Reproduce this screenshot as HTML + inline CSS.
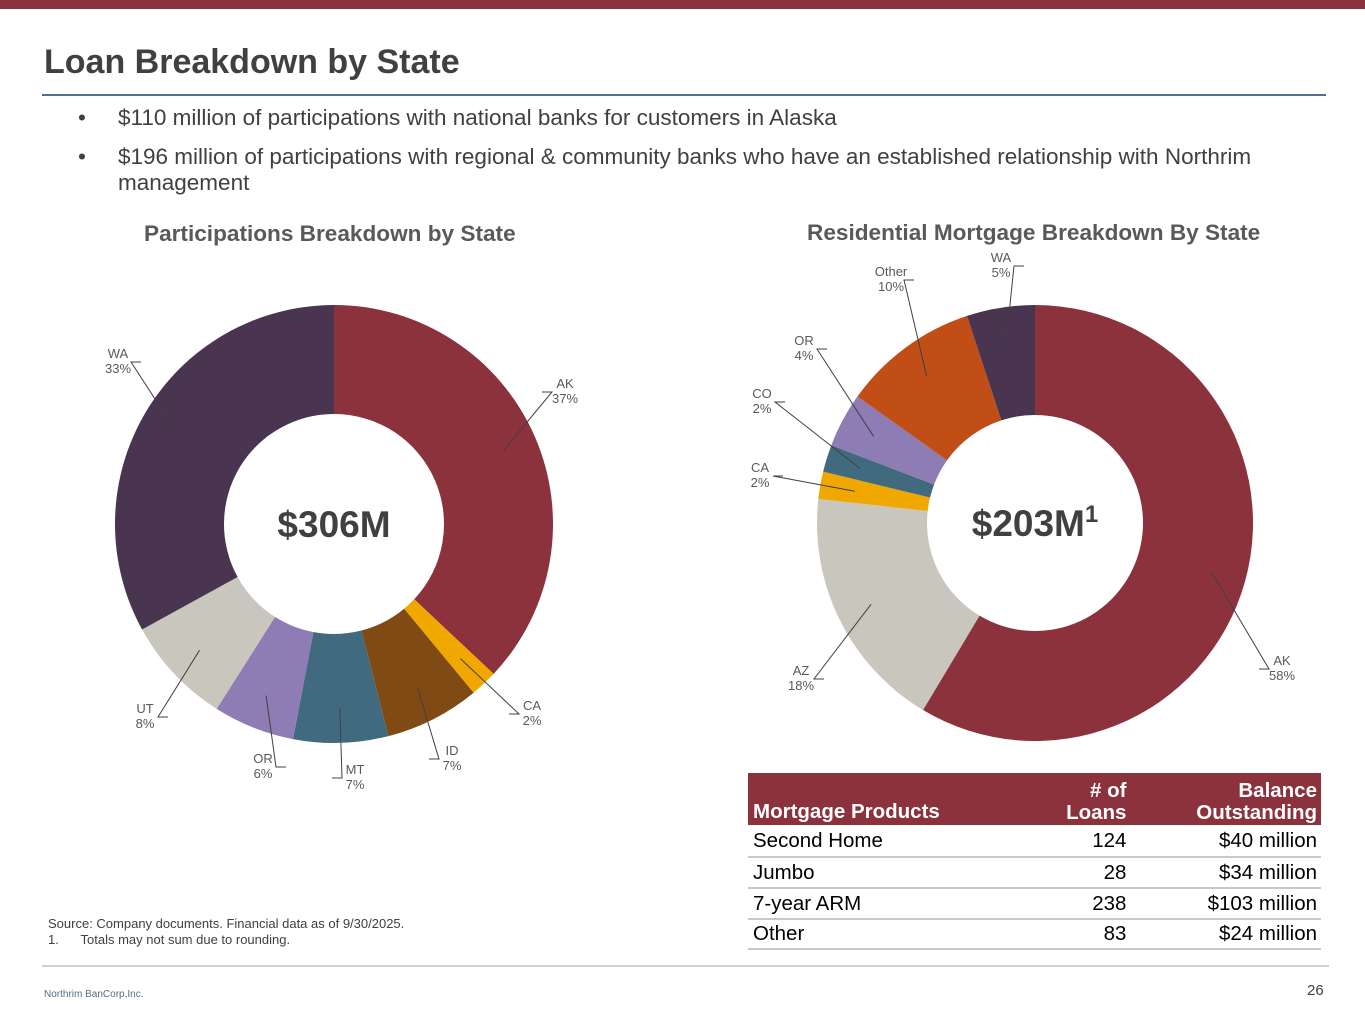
<!DOCTYPE html>
<html><head><meta charset="utf-8">
<style>
body{margin:0;width:1365px;height:1024px;background:#fff;font-family:"Liberation Sans",Arial,sans-serif;color:#404040;position:relative;overflow:hidden}
.abs{position:absolute}
.bul{position:absolute;left:78px;font-size:22.5px;color:#404040;line-height:26px}
.bul span{position:absolute;left:40px;width:1180px;line-height:26px}
table{border-collapse:collapse;font-size:20.5px;color:#000}
</style></head><body>
<div class="abs" style="left:0;top:0;width:1365px;height:9px;background:#8B323D"></div>
<div class="abs" style="left:44px;top:43px;font-size:34px;font-weight:bold;color:#404040">Loan Breakdown by State</div>
<div class="abs" style="left:42px;top:94px;width:1284px;height:2px;background:#4F6F8A"></div>
<div class="bul" style="top:105px">•<span style="top:0">$110 million of participations with national banks for customers in Alaska</span></div>
<div class="bul" style="top:144px">•<span style="top:0">$196 million of participations with regional &amp; community banks who have an established relationship with Northrim management</span></div>
<div class="abs" style="left:144px;top:221px;font-size:22.6px;font-weight:bold;color:#595959">Participations Breakdown by State</div>
<div class="abs" style="left:807px;top:220px;font-size:22.6px;font-weight:bold;color:#595959">Residential Mortgage Breakdown By State</div>
<svg class="abs" style="left:0;top:0" width="1365" height="1024" id="charts"></svg>
<div class="abs" style="left:748px;top:773px;width:573px">
<table style="width:573px">
<tr style="background:#8B323D;color:#fff;font-weight:bold;height:52px;vertical-align:bottom"><td style="padding:0 5px 1px">Mortgage Products</td><td style="text-align:right;padding:0 11px 1px 5px;line-height:22px"># of<br>Loans</td><td style="text-align:right;padding:0 4px 1px;line-height:22px">Balance<br>Outstanding</td></tr>
<tr style="height:32px;border-bottom:2px solid #c8c8c8"><td style="padding:0 5px">Second Home</td><td style="text-align:right;padding:0 11px 0 5px">124</td><td style="text-align:right;padding:0 4px">$40 million</td></tr>
<tr style="height:31px;border-bottom:2px solid #c8c8c8"><td style="padding:0 5px">Jumbo</td><td style="text-align:right;padding:0 11px 0 5px">28</td><td style="text-align:right;padding:0 4px">$34 million</td></tr>
<tr style="height:31px;border-bottom:2px solid #c8c8c8"><td style="padding:0 5px">7-year ARM</td><td style="text-align:right;padding:0 11px 0 5px">238</td><td style="text-align:right;padding:0 4px">$103 million</td></tr>
<tr style="height:30px;border-bottom:2px solid #c8c8c8"><td style="padding:0 5px">Other</td><td style="text-align:right;padding:0 11px 0 5px">83</td><td style="text-align:right;padding:0 4px">$24 million</td></tr>
</table></div>
<div class="abs" style="left:48px;top:916px;font-size:13px;line-height:16px;color:#404040">Source: Company documents. Financial data as of 9/30/2025.<br>1.&nbsp;&nbsp;&nbsp;&nbsp;&nbsp;&nbsp;Totals may not sum due to rounding.</div>
<div class="abs" style="left:42px;top:965px;width:1287px;height:2px;background:#d0d0d0"></div>
<div class="abs" style="left:44px;top:989px;font-size:10px;color:#4F6F8A">Northrim BanCorp,Inc.</div>
<div class="abs" style="left:1307px;top:982px;font-size:15px;color:#404040">26</div>
<script>
const leftCats=["AK","CA","ID","MT","OR","UT","WA"];
const leftVals=[37,2,7,7,6,8,33];
const rightCats=["AK","AZ","CA","CO","OR","Other","WA"];
const rightVals=[58,18,2,2,4,10,5];
const leftColors=["#8B323D","#F0A800","#7F4A14","#426A7E","#8E7DB4","#C9C7BD","#4A3550"];
const rightColors=["#8B323D","#C9C7BD","#F0A800","#426A7E","#8E7DB4","#C04E16","#4A3550"];
const leftLabelPos=[[565,388],[532,710],[452,755],[355,774],[263,763],[145,713],[118,358]];
const rightLabelPos=[[1282,665],[801,675],[760,472],[762,398],[804,345],[891,276],[1001,262]];
const NS="http://www.w3.org/2000/svg";
const svg=document.getElementById('charts');
function pt(cx,cy,r,a){return [cx+r*Math.sin(a),cy-r*Math.cos(a)];}
function donut(cx,cy,R,r,cats,vals,colors,labels,center,sup,name){
  const tot=vals.reduce((a,b)=>a+b,0);let a0=0;
  vals.forEach((v,i)=>{
    const a1=a0+v/tot*2*Math.PI;
    const p1=pt(cx,cy,R,a0),p2=pt(cx,cy,R,a1),p3=pt(cx,cy,r,a1),p4=pt(cx,cy,r,a0);
    const lg=(a1-a0)>Math.PI?1:0;
    const path=document.createElementNS(NS,'path');
    path.setAttribute('d',`M${p1}A${R},${R} 0 ${lg} 1 ${p2}L${p3}A${r},${r} 0 ${lg} 0 ${p4}Z`);
    path.setAttribute('fill',colors[i]);
    
    
    svg.appendChild(path);
    const am=(a0+a1)/2;const m=pt(cx,cy,(R+r)/2+20,am);
    const [lx,ly]=labels[i];const right=lx>cx;
    const ex=right?lx-13:lx+13,ey=ly+4;
    const ln=document.createElementNS(NS,'polyline');
    ln.setAttribute('points',`${m} ${ex},${ey} ${right?ex-10:ex+10},${ey}`);
    ln.setAttribute('fill','none');ln.setAttribute('stroke','#404040');ln.setAttribute('stroke-width','1');
    
    
    svg.appendChild(ln);
    const t=document.createElementNS(NS,'text');
    t.setAttribute('x',lx);t.setAttribute('y',ly);t.setAttribute('text-anchor','middle');
    t.setAttribute('font-size','13');t.setAttribute('fill','#595959');
    
    
    const s1=document.createElementNS(NS,'tspan');s1.setAttribute('x',lx);s1.textContent=cats[i];
    const s2=document.createElementNS(NS,'tspan');s2.setAttribute('x',lx);s2.setAttribute('dy','15');s2.textContent=vals[i]+'%';
    t.appendChild(s1);t.appendChild(s2);svg.appendChild(t);
    a0=a1;
  });
  const c=document.createElementNS(NS,'text');
  c.setAttribute('x',cx);c.setAttribute('y',cy+13);c.setAttribute('text-anchor','middle');
  c.setAttribute('font-size','37');c.setAttribute('font-weight','bold');c.setAttribute('fill','#404040');
  
  
  c.textContent=center;
  if(sup){const s=document.createElementNS(NS,'tspan');s.setAttribute('font-size','24');s.setAttribute('dy','-14');s.textContent=sup;c.appendChild(s);}
  svg.appendChild(c);
}
donut(334,524,219,110,leftCats,leftVals,leftColors,leftLabelPos,'$306M','','participations');
donut(1035,523,218,108,rightCats,rightVals,rightColors,rightLabelPos,'$203M','1','mortgage');
</script>
</body></html>
